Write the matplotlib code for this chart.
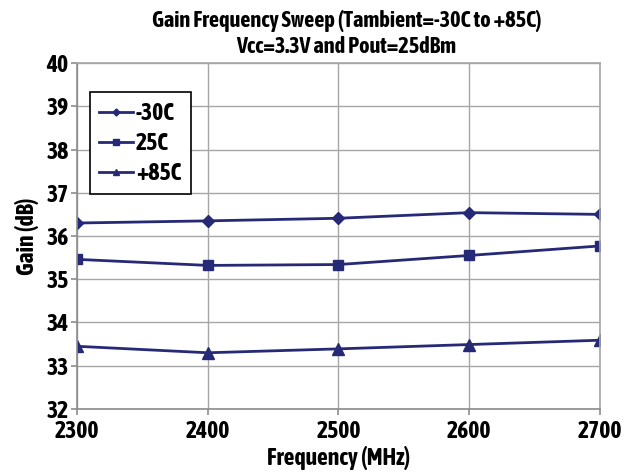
import matplotlib
matplotlib.use("Agg")
import matplotlib.pyplot as plt
from matplotlib.ticker import MultipleLocator

freq = [2300, 2400, 2500, 2600, 2700]
gain_m30 = [36.30, 36.35, 36.41, 36.54, 36.50]
gain_25 = [35.46, 35.32, 35.34, 35.55, 35.77]
gain_85 = [33.45, 33.30, 33.39, 33.49, 33.59]
labels = ["-30C", "25C", "+85C"]

plt.rcParams['font.family'] = ['Asap Condensed', 'DejaVu Sans']
plt.rcParams['font.weight'] = 'bold'

navy = '#262A76'
grid_c = '#A6A6A6'
spine_c = '#8C8C8C'

fig = plt.figure(figsize=(6.33, 4.72), dpi=100)
ax = fig.add_axes([0.1216, 0.1335, 0.826, 0.733])

ax.plot(freq, gain_m30, color=navy, lw=2, marker='D', ms=6.5, label=labels[0])
ax.plot(freq, gain_25, color=navy, lw=2, marker='s', ms=7.5, label=labels[1])
ax.plot(freq, gain_85, color=navy, lw=2, marker='^', ms=8.5, label=labels[2])

ax.set_xlim(2300, 2700)
ax.set_ylim(32, 40)
ax.xaxis.set_major_locator(MultipleLocator(100))
ax.yaxis.set_major_locator(MultipleLocator(1))
ax.grid(True, color=grid_c, lw=1)
ax.set_axisbelow(True)
for s in ax.spines.values():
    s.set_color(grid_c)
    s.set_linewidth(1.2)
ax.spines['bottom'].set_color(spine_c)
ax.spines['left'].set_color(spine_c)
ax.tick_params(axis='both', colors=spine_c, labelcolor='black', labelsize=17,
               length=4, width=1.2, direction='out')
ax.tick_params(axis='x', pad=4)
ax.tick_params(axis='y', pad=2)
for t in ax.get_xticklabels() + ax.get_yticklabels():
    t.set_fontweight('bold')

ax.set_xlabel("Frequency (MHz)", fontsize=17, fontweight='bold', labelpad=2)
ax.set_ylabel("Gain (dB)", fontsize=17, fontweight='bold', labelpad=5)
fig.text(0.547, 0.978, "Gain Frequency Sweep (Tambient=-30C to +85C)\nVcc=3.3V and Pout=25dBm",
         ha='center', va='top', fontsize=16, fontweight='bold', linespacing=1.2)

leg = ax.legend(loc='upper left', bbox_to_anchor=(0.025, 0.915), fontsize=17,
                fancybox=False, framealpha=1, edgecolor='black', borderpad=0.4,
                handlelength=1.4, handletextpad=0.15, labelspacing=0.3, markerscale=0.55,
                borderaxespad=0)
leg.get_frame().set_linewidth(1.2)
for t in leg.get_texts():
    t.set_fontweight('bold')

fig.savefig("out.png", dpi=100)
